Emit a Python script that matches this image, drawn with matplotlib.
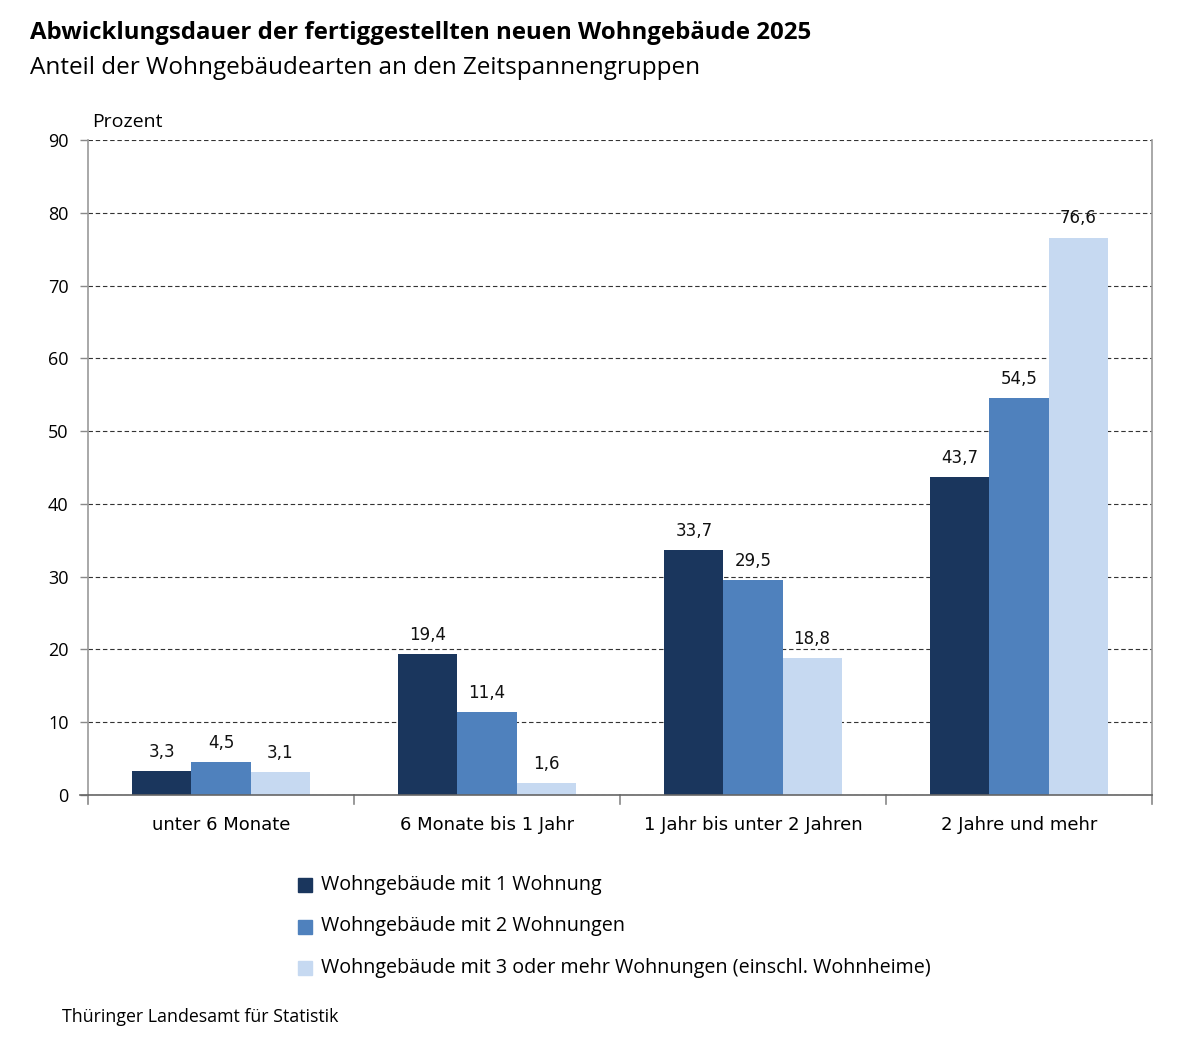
import matplotlib
matplotlib.use("Agg")
import matplotlib.pyplot as plt
import numpy as np

categories = ["unter 6 Monate", "6 Monate bis 1 Jahr", "1 Jahr bis unter 2 Jahren", "2 Jahre und mehr"]
series_names = ["Wohngebäude mit 1 Wohnung",
                "Wohngebäude mit 2 Wohnungen",
                "Wohngebäude mit 3 oder mehr Wohnungen (einschl. Wohnheime)"]
s1 = [3.3, 19.4, 33.7, 43.7]
s2 = [4.5, 11.4, 29.5, 54.5]
s3 = [3.1, 1.6, 18.8, 76.6]
colors = ["#1a365d", "#4f81bd", "#c6d9f1"]
yticks = [0, 10, 20, 30, 40, 50, 60, 70, 80, 90]

W, H = 1200, 1037
fig = plt.figure(figsize=(W/100, H/100), dpi=100)
ax = fig.add_axes([88/W, 1-795/H, (1152-88)/W, (795-140)/H])

sans = ["Open Sans", "DejaVu Sans"]
x = np.arange(len(categories))
bw = 0.222
for i, (vals, c) in enumerate(zip([s1, s2, s3], colors)):
    pos = x + (i-1)*bw
    ax.bar(pos, vals, width=bw, color=c, zorder=3, linewidth=0)
    for p, v in zip(pos, vals):
        ax.text(p, v + 1.4, f"{v:.1f}".replace(".", ","), ha="center", va="bottom",
                fontsize=12, family="DejaVu Sans", color="#111111", zorder=4)

ax.set_xlim(-0.5, len(categories)-0.5)
ax.set_ylim(0, 90)
ax.set_yticks(yticks)
ax.set_yticklabels([str(t) for t in yticks], family=sans, fontsize=13)
ax.yaxis.grid(True, linestyle=(0, (4, 2.5)), color="#333333", linewidth=0.8, zorder=1)
ax.tick_params(axis="y", length=6, color="#888888", width=1, pad=8)
ax.set_xticks(x)
ax.set_xticklabels(categories, family="DejaVu Sans", fontsize=13)
ax.tick_params(axis="x", length=0, pad=15)
# category separators
for b in np.arange(-0.5, len(categories), 1.0):
    ax.plot([b, b], [0, -1.3], color="#888888", lw=1.2, clip_on=False, zorder=5)
for sp in ["left", "right"]:
    ax.spines[sp].set_color("#999999")
    ax.spines[sp].set_linewidth(1.2)
ax.spines["top"].set_visible(False)
ax.spines["bottom"].set_color("#666666")
ax.spines["bottom"].set_linewidth(1.2)
ax.spines["bottom"].set_zorder(6)
ax.plot([-0.5 - 8/266, -0.5], [0, 0], color="#666666", lw=1.2, clip_on=False)

fig.text(30/W, 1-33/H, "Abwicklungsdauer der fertiggestellten neuen Wohngebäude 2025",
         fontsize=17.3, fontweight="bold", family=sans, va="center", ha="left")
fig.text(30/W, 1-68/H, "Anteil der Wohngebäudearten an den Zeitspannengruppen",
         fontsize=17.45, family=sans, va="center", ha="left")
fig.text(92/W, 1-122/H, "Prozent", fontsize=14, family=sans, va="center", ha="left")

for i, (name, c) in enumerate(zip(series_names, colors)):
    y = 885 + i*41.5
    fig.patches.append(plt.Rectangle((298/W, 1-(y+7)/H), 14/W, 14/H, transform=fig.transFigure,
                                     color=c, figure=fig))
    fig.text(321/W, 1-y/H, name, fontsize=14.2, family=sans, va="center", ha="left")

fig.text(62/W, 1-1017/H, "Thüringer Landesamt für Statistik", fontsize=12.8, family=sans,
         va="center", ha="left")

fig.savefig("out.png", dpi=100)
